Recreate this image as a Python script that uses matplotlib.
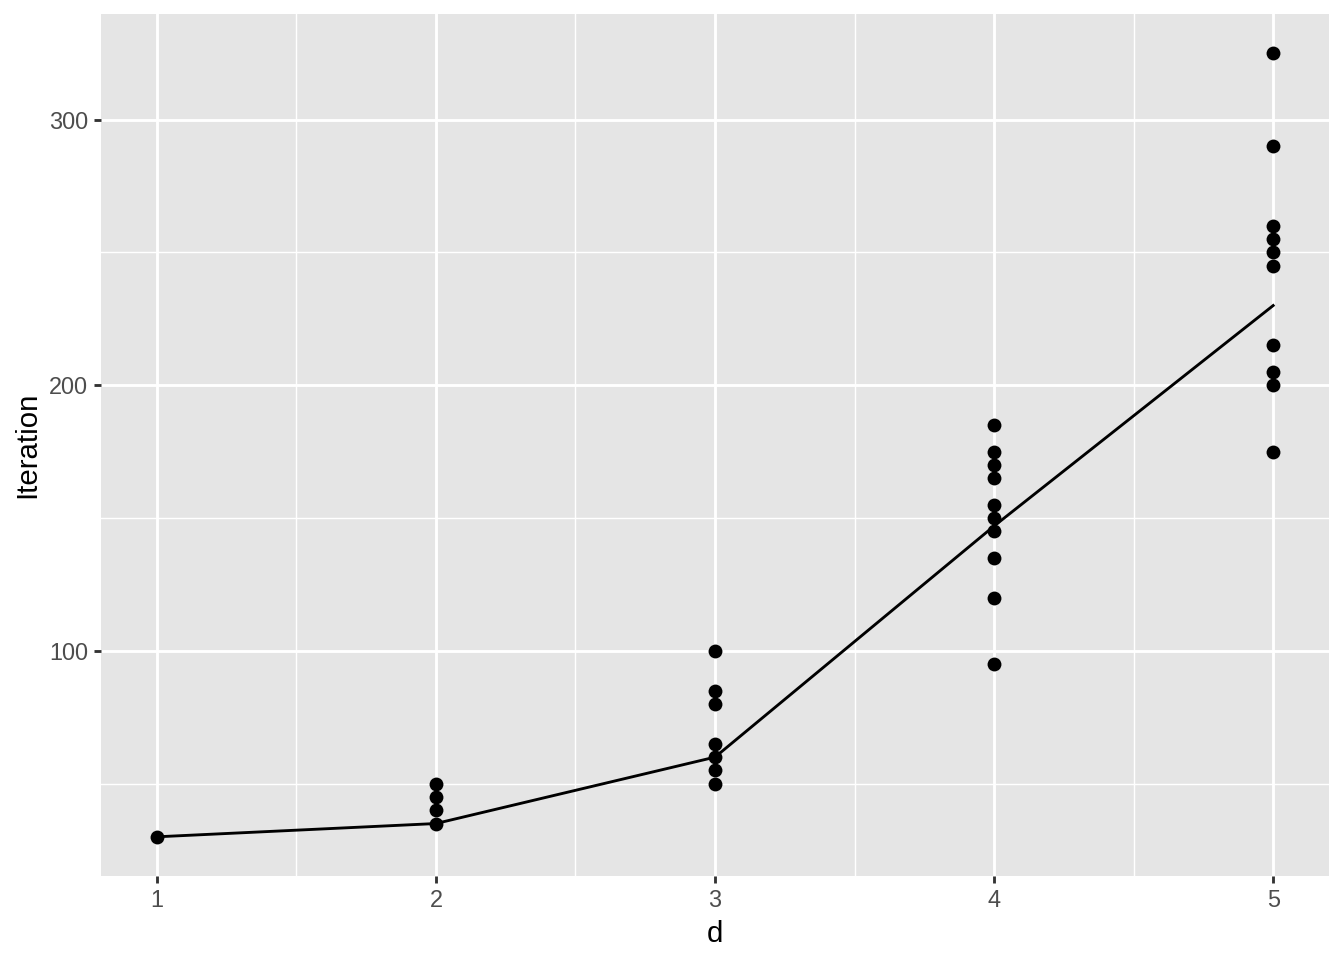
import matplotlib
matplotlib.use("Agg")
import matplotlib.pyplot as plt
import numpy as np

# Data
d1 = [1]
it1 = [30]
d2 = [2, 2, 2, 2]
it2 = [35, 40, 45, 50]
d3 = [3, 3, 3, 3, 3, 3, 3]
it3 = [50, 55, 60, 65, 80, 85, 100]
d4 = [4] * 10
it4 = [95, 120, 135, 145, 150, 155, 165, 170, 175, 185]
d5 = [5] * 10
it5 = [175, 200, 205, 215, 245, 250, 255, 260, 290, 325]

line_d = [1, 2, 3, 4, 5]
line_mean = [30, 35, 60, 147, 230]

x_ticks = [1, 2, 3, 4, 5]
y_ticks = [100, 200, 300]

plt.rcParams['font.family'] = ['Liberation Sans', 'DejaVu Sans']

fig = plt.figure(figsize=(7, 5), dpi=192)
ax = fig.add_axes([101/1344, 84/960, (1329-101)/1344, (876-14)/960])
ax.set_facecolor('#E5E5E5')

all_x = np.array(d1 + d2 + d3 + d4 + d5, dtype=float)
all_y = np.array(it1 + it2 + it3 + it4 + it5, dtype=float)

xmin, xmax = all_x.min(), all_x.max()
ymin, ymax = all_y.min(), all_y.max()
xr = xmax - xmin
yr = ymax - ymin
ax.set_xlim(xmin - 0.05 * xr, xmax + 0.05 * xr)
ax.set_ylim(ymin - 0.05 * yr, ymax + 0.05 * yr)

# grid
for v in [1.5, 2.5, 3.5, 4.5]:
    ax.axvline(v, color='white', lw=0.53, zorder=0.5)
for v in [50, 150, 250]:
    ax.axhline(v, color='white', lw=0.53, zorder=0.5)
for v in x_ticks:
    ax.axvline(v, color='white', lw=1.07, zorder=0.6)
for v in y_ticks:
    ax.axhline(v, color='white', lw=1.07, zorder=0.6)

ax.scatter(all_x, all_y, s=27, color='black', linewidths=0, zorder=3)
ax.plot(line_d, line_mean, color='black', lw=1.07, zorder=4)

for s in ax.spines.values():
    s.set_visible(False)

ax.set_xticks(x_ticks)
ax.set_xticklabels([str(v) for v in x_ticks])
ax.set_yticks(y_ticks)
ax.set_yticklabels([str(v) for v in y_ticks])
ax.tick_params(axis='both', length=2.75, width=1.07, color='#333333',
               labelcolor='#4D4D4D', labelsize=8.8, pad=2.2)

ax.set_xlabel('d', fontsize=11, color='black', labelpad=2.75)
ax.set_ylabel('Iteration', fontsize=11, color='black', labelpad=2.75)

fig.savefig('out.png', dpi=192, facecolor='white')
